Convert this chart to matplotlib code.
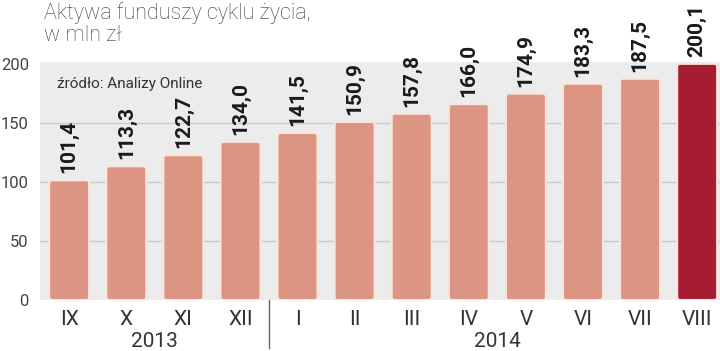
import matplotlib.pyplot as plt
from matplotlib.patches import FancyBboxPatch

# Dane
miesiace = ['IX', 'X', 'XI', 'XII', 'I', 'II', 'III', 'IV', 'V', 'VI', 'VII', 'VIII']
aktywa = [101.4, 113.3, 122.7, 134.0, 141.5, 150.9, 157.8, 166.0, 174.9, 183.3, 187.5, 200.1]
lata = ['2013', '2014']
lata_zakres = [(0, 3), (4, 11)]
y_ticks = [0, 50, 100, 150, 200]

kolor = '#dc9582'
kolor_ost = '#a51c30'

plt.rcParams['font.family'] = ['Roboto', 'DejaVu Sans']

fig = plt.figure(figsize=(7.2, 3.51), dpi=100)
ax = fig.add_axes([0.0556, 0.1453, 0.9444, 0.6792])
ax.set_facecolor('#ececec')

x = list(range(len(miesiace)))
bars = ax.bar(x, aktywa, width=0.7, color=kolor)

# zaokrąglone słupki z jasną obwódką
asp = (57 / 1.18)
for i, b in enumerate(bars):
    b.set_visible(False)
    fc = kolor_ost if i == len(bars) - 1 else kolor
    p = FancyBboxPatch((b.get_x(), 0), b.get_width(), b.get_height(),
                       boxstyle='round,pad=0,rounding_size=0.05',
                       mutation_aspect=asp, fc=fc, ec='#f9e6dd', lw=1.5, zorder=3)
    ax.add_patch(p)
    # etykieta wartości
    ax.text(b.get_x() + b.get_width() / 2, b.get_height() + 6,
            f'{aktywa[i]:.1f}'.replace('.', ','), rotation=90,
            ha='center', va='bottom', fontsize=15, fontweight='bold',
            color='#1a1a1a', clip_on=False, zorder=4)

ax.set_xlim(-0.51, 11.4)
ax.set_ylim(0, 202)

for yv in [50, 100, 150]:
    ax.axhline(yv, color='#cbcbcb', lw=1, zorder=1)

ax.set_yticks(y_ticks)
ax.set_yticklabels([str(v) for v in y_ticks], fontsize=12, color='#444444')
ax.tick_params(axis='y', length=0, pad=8)
ax.set_xticks(x)
ax.set_xticklabels(miesiace, fontsize=15, color='#333333')
ax.tick_params(axis='x', length=0, pad=7)

for s in ax.spines.values():
    s.set_visible(False)

# lata pod osią
for rok, (a, b) in zip(lata, lata_zakres):
    ax.text((a + b) / 2, -0.175, rok, transform=ax.get_xaxis_transform(),
            ha='center', va='center', fontsize=15, color='#333333')
ax.plot([3.5, 3.5], [0, -0.2], transform=ax.get_xaxis_transform(),
        color='#666666', lw=1, clip_on=False)

fig.text(0.061, 0.995, 'Aktywa funduszy cyklu życia,\nw mln zł', ha='left', va='top',
         fontsize=15.5, color='#3a3a3a', linespacing=1.1, fontweight='light')
ax.text(0.025, 0.935, 'źródło: Analizy Online', transform=ax.transAxes,
        ha='left', va='top', fontsize=11, color='#333333', zorder=5)

fig.savefig('out.png', dpi=100)
